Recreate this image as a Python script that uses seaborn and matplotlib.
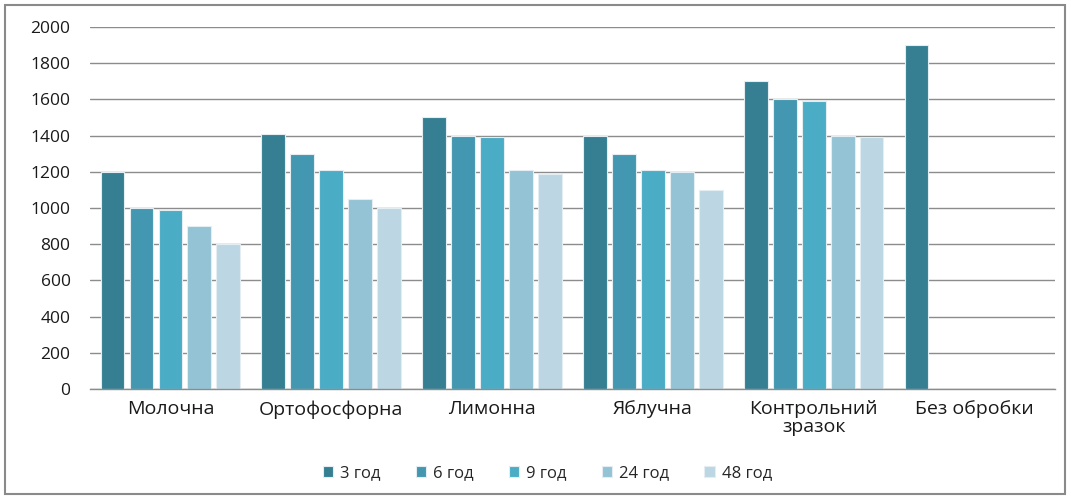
import numpy as np
import pandas as pd
import matplotlib
matplotlib.use("Agg")
import matplotlib.pyplot as plt
from matplotlib.patches import Rectangle
import seaborn as sns

# Treatments (x categories) and exposure times (hue)
categories = ["Молочна", "Ортофосфорна", "Лимонна", "Яблучна",
              "Контрольний\nзразок", "Без обробки"]
series_names = ["3 год", "6 год", "9 год", "24 год", "48 год"]

values_3h = [1200, 1410, 1500, 1400, 1700, 1900]
values_6h = [1000, 1300, 1400, 1300, 1600, np.nan]
values_9h = [990, 1210, 1390, 1210, 1590, np.nan]
values_24h = [900, 1050, 1210, 1200, 1400, np.nan]
values_48h = [800, 1000, 1190, 1100, 1390, np.nan]

y_ticks = [0, 200, 400, 600, 800, 1000, 1200, 1400, 1600, 1800, 2000]

colors = ["#367f93", "#4397b0", "#4bacc6", "#93c3d5", "#bcd7e3"]

rows = []
for name, vals in zip(series_names,
                      [values_3h, values_6h, values_9h, values_24h, values_48h]):
    for cat, v in zip(categories, vals):
        rows.append({"category": cat, "series": name, "value": v})
df = pd.DataFrame(rows)

sns.set_theme(style="white")
plt.rcParams["font.family"] = ["Open Sans", "DejaVu Sans"]

fig = plt.figure(figsize=(10.71, 4.97), dpi=100)
ax = fig.add_axes([0.084, 0.2173, 0.901, 0.7284])

sns.barplot(data=df, x="category", y="value", hue="series",
            order=categories, hue_order=series_names,
            palette=colors, width=0.9, ax=ax, legend=True,
            edgecolor="#e4eef2", linewidth=0.8, saturation=1)

# narrow each bar a little so neighbours are separated by a gap
for p in ax.patches:
    if p.get_height() and not np.isnan(p.get_height()):
        w = p.get_width()
        nw = w * 0.82
        p.set_x(p.get_x() + (w - nw) / 2)
        p.set_width(nw)

ax.set_ylim(0, 2000)
ax.set_xlim(-0.5, len(categories) - 0.5)
ax.set_yticks(y_ticks)
ax.yaxis.grid(True, color="#8c8c8c", linewidth=1.0)
ax.set_axisbelow(True)
for side in ["top", "right", "left"]:
    ax.spines[side].set_visible(False)
ax.spines["bottom"].set_color("#8c8c8c")
ax.spines["bottom"].set_linewidth(1.0)
ax.tick_params(axis="both", length=0, colors="#1a1a1a")
ax.tick_params(axis="y", pad=14, labelsize=12.5)
ax.tick_params(axis="x", pad=8, labelsize=14)
for lbl in ax.get_xticklabels():
    lbl.set_linespacing(1.0)
ax.set_xlabel("")
ax.set_ylabel("")

handles, labels = ax.get_legend_handles_labels()
ax.get_legend().remove()
fig.legend(handles, labels, loc="center", bbox_to_anchor=(0.511, 0.048),
           ncol=5, frameon=False, fontsize=12, handlelength=0.65,
           handleheight=0.65, handletextpad=0.4, columnspacing=2.1)

# outer frame around the chart
fig.add_artist(Rectangle((0.005, 0.006), 0.989, 0.984, transform=fig.transFigure,
                         fill=False, edgecolor="#8a8a8a", linewidth=1.5))

fig.savefig("out.png", dpi=100)
